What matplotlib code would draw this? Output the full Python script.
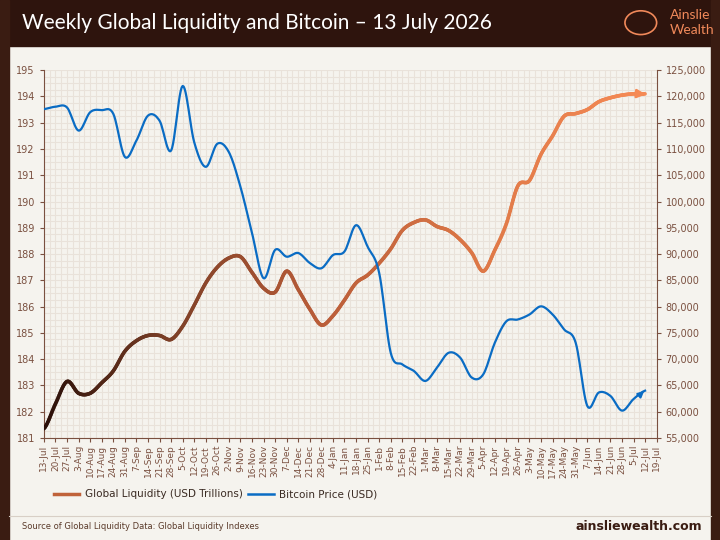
import numpy as np
import pandas as pd
import matplotlib
matplotlib.use("Agg")
import matplotlib.pyplot as plt
from matplotlib.collections import LineCollection
from matplotlib.colors import LinearSegmentedColormap
from matplotlib.patches import Rectangle
from matplotlib.ticker import MultipleLocator, FuncFormatter

weeks = pd.date_range("2025-07-13", periods=54, freq="7D")
tick_labels = [f"{d.day}-{d.strftime('%b')}" for d in weeks]

liquidity = [181.35, 182.3, 183.15, 182.7, 182.7, 183.1, 183.55, 184.3, 184.7, 184.9,
             184.9, 184.75, 185.25, 186.05, 186.9, 187.5, 187.85, 187.9, 187.3, 186.7,
             186.55, 187.35, 186.65, 185.9, 185.3, 185.65, 186.25, 186.9, 187.2, 187.65,
             188.2, 188.9, 189.2, 189.3, 189.05, 188.9, 188.55, 188.05, 187.35, 188.15,
             189.15, 190.6, 190.8, 191.8, 192.5, 193.25, 193.35, 193.5, 193.8, 193.95,
             194.05, 194.1, 194.1]
bitcoin = [117600, 118050, 117900, 113500, 117000, 117400, 116700, 108500, 111600, 116350,
           115400, 109700, 122000, 111300, 106600, 111000, 109400, 102800, 94000, 85400,
           90800, 89500, 90200, 88300, 87300, 89800, 90500, 95500, 91400, 86400,
           71200, 69000, 67750, 65850, 68400, 71200, 70300, 66500, 67100, 73100,
           77200, 77550, 78500, 80050, 78500, 75650, 73100, 61100, 63650, 63000,
           60200, 62400, 64000]


def smooth(y, n=12):
    # Catmull-Rom through the weekly points
    y = np.asarray(y, float)
    p = np.concatenate([[y[0]], y, [y[-1]]])
    xs, ys = [], []
    t = np.linspace(0, 1, n, endpoint=False)
    for i in range(len(y) - 1):
        p0, p1, p2, p3 = p[i], p[i + 1], p[i + 2], p[i + 3]
        v = 0.5 * (2 * p1 + (-p0 + p2) * t + (2 * p0 - 5 * p1 + 4 * p2 - p3) * t ** 2
                   + (-p0 + 3 * p1 - 3 * p2 + p3) * t ** 3)
        xs.append(i + t)
        ys.append(v)
    xs.append([len(y) - 1])
    ys.append([y[-1]])
    return np.concatenate(xs), np.concatenate(ys)


bg = "#f5f3ee"
brown = "#7a5040"
fig = plt.figure(figsize=(7.2, 5.4), dpi=100, facecolor=bg)

# header band and side borders
fig.patches.append(Rectangle((0, 0.915), 1, 0.085, transform=fig.transFigure, color="#2e140d", zorder=0))
fig.patches.append(Rectangle((0, 0), 0.012, 1, transform=fig.transFigure, color="#3a1c12", zorder=0))
fig.patches.append(Rectangle((0.988, 0), 0.012, 1, transform=fig.transFigure, color="#3a1c12", zorder=0))
fig.text(0.03, 0.958, "Weekly Global Liquidity and Bitcoin \u2013 13 July 2026", color="white",
         fontsize=15, va="center", family="Lato")
fig.text(0.93, 0.972, "Ainslie", color="#f0895a", fontsize=10, va="center", ha="left", family="Lato")
fig.text(0.93, 0.945, "Wealth", color="#f0895a", fontsize=10, va="center", ha="left", family="Lato")
fig.patches.append(plt.Circle((0.89, 0.958), 0.022, transform=fig.transFigure, fill=False,
                              ec="#f0895a", lw=1.2))

ax = fig.add_axes([0.061, 0.189, 0.851, 0.681])
ax.set_facecolor(bg)
ax2 = ax.twinx()

x = np.arange(len(weeks))
ax.set_xlim(0, len(weeks) - 1)
ax.set_ylim(181, 195)
ax2.set_ylim(55000, 125000)

ax.set_xticks(x)
ax.set_xticklabels(tick_labels, rotation=90, fontsize=6.5, color=brown)
ax.xaxis.set_minor_locator(MultipleLocator(0.5))
ax.yaxis.set_major_locator(MultipleLocator(1))
ax.yaxis.set_minor_locator(MultipleLocator(0.25))
ax.grid(which="both", color="#e9e2da", lw=0.8)
ax.set_axisbelow(True)
ax.tick_params(axis="y", labelsize=7, colors=brown, length=3)
ax.tick_params(axis="x", length=3, colors=brown, pad=2)
ax.tick_params(which="minor", length=0)
ax2.yaxis.set_major_locator(MultipleLocator(5000))
ax2.yaxis.set_major_formatter(FuncFormatter(lambda v, p: f"{int(v):,}"))
ax2.tick_params(axis="y", labelsize=7, colors=brown, length=3)
for a in (ax, ax2):
    for s in a.spines.values():
        s.set_visible(False)
ax.spines["left"].set_visible(True)
ax.spines["bottom"].set_visible(True)
ax2.spines["right"].set_visible(True)
for s in (ax.spines["left"], ax.spines["bottom"], ax2.spines["right"]):
    s.set_color(brown)

# liquidity: gradient line
lx, ly = smooth(liquidity)
pts = np.column_stack([lx, ly]).reshape(-1, 1, 2)
segs = np.concatenate([pts[:-1], pts[1:]], axis=1)
cmap = LinearSegmentedColormap.from_list(
    "liq", [(0, "#2a0f08"), (0.2, "#7a3e26"), (0.45, "#b85c38"), (0.75, "#e07a48"), (1, "#f58a55")])
lc = LineCollection(segs, cmap=cmap, lw=2.6, capstyle="round", zorder=3)
lc.set_array(lx[:-1] / lx[-1])
ax.add_collection(lc)
ax.annotate("", xy=(lx[-1] + 0.3, ly[-1] - 0.03), xytext=(lx[-1] - 0.5, ly[-1]),
            arrowprops=dict(arrowstyle="-|>", color="#f58a55", lw=2, mutation_scale=12), zorder=4)

# bitcoin
bx, by = smooth(bitcoin)
ax2.plot(bx, by, color="#0a6cc4", lw=1.6, zorder=3)
ax2.annotate("", xy=(bx[-1] + 0.1, by[-1] + 300), xytext=(bx[-1] - 0.5, by[-1] - 900),
             arrowprops=dict(arrowstyle="-|>", color="#0a6cc4", lw=1.4, mutation_scale=9))

# legend
ly0 = 0.085
fig.add_artist(plt.Line2D([0.075, 0.11], [ly0, ly0], color="#c0623a", lw=2.5, transform=fig.transFigure))
fig.text(0.118, ly0, "Global Liquidity (USD Trillions)", fontsize=7.5, va="center", color="#3a2a22")
fig.add_artist(plt.Line2D([0.345, 0.38], [ly0, ly0], color="#0a6cc4", lw=1.8, transform=fig.transFigure))
fig.text(0.388, ly0, "Bitcoin Price (USD)", fontsize=7.5, va="center", color="#3a2a22")

fig.add_artist(plt.Line2D([0.012, 0.988], [0.045, 0.045], color="#d8cfc6", lw=0.8, transform=fig.transFigure))
fig.text(0.03, 0.025, "Source of Global Liquidity Data: Global Liquidity Indexes", fontsize=6, color="#5a3a2a", va="center")
fig.text(0.975, 0.025, "ainsliewealth.com", fontsize=9, color="#3a1c12", va="center", ha="right", weight="bold")

fig.savefig("out.png", dpi=100, facecolor=bg)
